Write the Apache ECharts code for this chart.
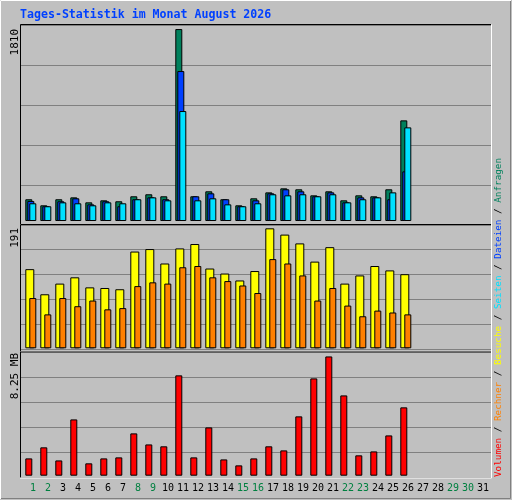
<!DOCTYPE html>
<html><head><meta charset="utf-8">
<script src="https://cdn.jsdelivr.net/npm/echarts@6/dist/echarts.min.js"></script>
<style>html,body{margin:0;padding:0;background:#C0C0C0}#c{width:512px;height:500px}</style>
</head><body><div id="c"></div>
<script>
const days = Array.from({length:31},(_,i)=>String(i+1));
const weekend = [1,2,8,9,15,16,22,23,29,30];
const hits  = [205,148,205,223,176,195,186,233,252,233,1810,233,280,205,148,214,270,308,299,242,280,195,242,233,299,949];
const files = [189,139,186,214,157,186,139,205,223,205,1414,233,261,205,139,195,261,299,280,233,270,176,223,223,205,468];
const pages = [167,139,176,167,148,176,167,205,223,195,1037,195,214,157,139,167,252,242,252,233,252,176,205,223,270,883];
const visits= [126,86,103,113,97,96,94,154,158,135,159,166,127,119,108,123,191,181,167,138,161,103,116,131,124,118];
const sites = [80,54,80,67,76,62,64,99,105,103,129,131,113,107,100,88,142,135,116,76,96,68,51,60,57,54];
const volMB = [1.19,1.95,1.05,3.87,0.85,1.19,1.26,2.91,2.15,2.02,6.90,1.26,3.32,1.12,0.71,1.19,2.02,1.74,4.08,6.69,8.20,5.52,1.40,1.67,2.77,4.70];

const FONT = 'DejaVu Sans Mono';
const W = 465;
const P = [
  {top:25, h:200, min:-37.7, iv:377.2},
  {top:224.3, h:125, min:-1.6, iv:39.8},
  {top:352.3, h:125, min:-0.11, iv:1.719}
];
const grids=[], xAxes=[], yAxes=[], series=[];
function addGrid(pi, left, width){
  const idx = grids.length;
  grids.push({left:left, top:P[pi].top, width:width, height:P[pi].h});
  return idx;
}
function addSeries(pi, left, data, color, bw){
  const idx = addGrid(pi, left, W);
  xAxes.push({type:'category', gridIndex:idx, data:days, axisLine:{show:false}, axisTick:{show:false},
    axisLabel:{show:false}, splitLine:{show:false}});
  yAxes.push({type:'value', gridIndex:idx, min:P[pi].min, max:P[pi].min+5*P[pi].iv, interval:P[pi].iv,
    axisLine:{show:false}, axisTick:{show:false}, axisLabel:{show:false}, splitLine:{show:false}});
  series.push({type:'bar', xAxisIndex:idx, yAxisIndex:idx, data:data, barWidth:bw,
    itemStyle:{color:color, borderColor:'#000', borderWidth:1}, silent:true, animation:false, z:2+idx});
}
function addSplit(pi){
  const idx = addGrid(pi, 21, 470);
  xAxes.push({type:'category', gridIndex:idx, data:days, show:false});
  yAxes.push({type:'value', gridIndex:idx, min:P[pi].min, max:P[pi].min+5*P[pi].iv, interval:P[pi].iv,
    axisLine:{show:false}, axisTick:{show:false}, axisLabel:{show:false},
    splitLine:{show:true, lineStyle:{color:'#808080', width:1}}});
}
addSplit(0); addSplit(1); addSplit(2);
addSeries(0, 21.3, hits, '#00805C', 7);
addSeries(0, 23.3, files, '#0040FF', 7);
addSeries(0, 25.3, pages, '#00E0FF', 7);
addSeries(1, 22.3, visits, '#FFFF00', 9);
addSeries(1, 25.3, sites, '#FF8000', 7);
addSeries(2, 21.3, volMB, '#FF0000', 7);
(function(){
  const idx = addGrid(2, 25.5, W);
  xAxes.push({type:'category', gridIndex:idx, data:days, axisLine:{show:false}, axisTick:{show:false},
    axisLabel:{fontFamily:FONT, fontSize:10, margin:6, interval:0,
      color:(v)=>weekend.includes(+v)?'#008040':'#000'}});
  yAxes.push({type:'value', gridIndex:idx, show:false});
})();

function panelBox(y1,y2){
  return [
    {type:'line', shape:{x1:20.5,y1:y1,x2:491,y2:y1}, style:{stroke:'#000',lineWidth:1}, z:50},
    {type:'line', shape:{x1:20.5,y1:y1,x2:20.5,y2:y2}, style:{stroke:'#000',lineWidth:1}, z:50},
    {type:'line', shape:{x1:20,y1:y2,x2:491.5,y2:y2}, style:{stroke:'#fff',lineWidth:1}, z:50},
    {type:'line', shape:{x1:491.5,y1:y1,x2:491.5,y2:y2}, style:{stroke:'#fff',lineWidth:1}, z:50}
  ];
}
function vtext(x,y,text,color,size){
  return {type:'text', x:x, y:y, rotation:Math.PI/2, z:60,
    style:{text:text, fill:color, font:size+'px "'+FONT+'"', align:'right', verticalAlign:'middle'}};
}
const graphic = [
  {type:'rect', shape:{x:0.5,y:0.5,width:510,height:498}, style:{fill:'none', stroke:'#808080', lineWidth:1}, z:50},
  {type:'line', shape:{x1:0.5,y1:0.5,x2:511,y2:0.5}, style:{stroke:'#fff'}, z:51},
  {type:'line', shape:{x1:0.5,y1:0.5,x2:0.5,y2:499}, style:{stroke:'#fff'}, z:51},
  {type:'text', x:20, y:15, z:60, style:{text:'Tages-Statistik im Monat August 2026', fill:'#0040FF',
    font:'bold 11.6px "'+FONT+'"', align:'left', verticalAlign:'middle'}},
  ...panelBox(24.5,224.5), ...panelBox(224.5,352), ...panelBox(352,478),
  vtext(15.5,29,'1810','#000',11),
  vtext(15.5,228,'191','#000',11),
  vtext(15.5,353,'8.25 MB','#000',11),
  {type:'text', x:499, y:477, rotation:Math.PI/2, z:60,
    style:{text:'{r|Volumen} / {o|Rechner} / {y|Besuche} / {c|Seiten} / {b|Dateien} / {g|Anfragen}',
      font:'9.3px "'+FONT+'"', fill:'#000', align:'left', verticalAlign:'middle',
      rich:{r:{fill:'#FF0000'}, o:{fill:'#FF8000'}, y:{fill:'#FFFF00'}, c:{fill:'#00E0FF'}, b:{fill:'#0040FF'}, g:{fill:'#00805C'}}}}
];
const chart = echarts.init(document.getElementById('c'), null, {renderer:'canvas'});
chart.setOption({backgroundColor:'#C0C0C0', animation:false, grid:grids, xAxis:xAxes, yAxis:yAxes, series:series, graphic:graphic});
</script></body></html>
